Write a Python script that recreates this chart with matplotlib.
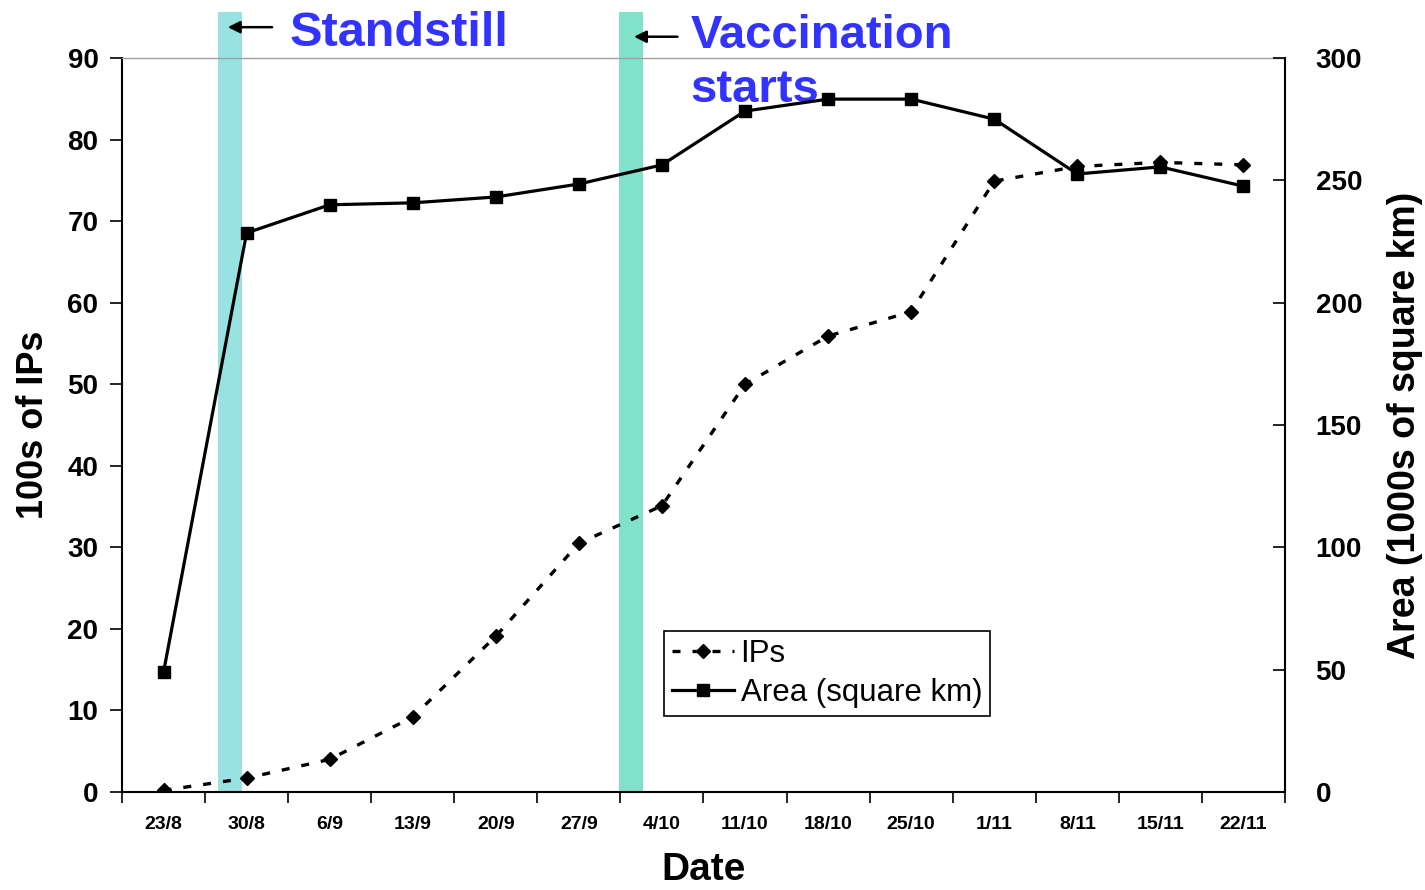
import matplotlib
matplotlib.use("Agg")
import matplotlib.pyplot as plt
import numpy as np

plt.rcParams['font.family'] = ['Liberation Sans', 'DejaVu Sans']

dates = ["23/8", "30/8", "6/9", "13/9", "20/9", "27/9", "4/10", "11/10",
         "18/10", "25/10", "1/11", "8/11", "15/11", "22/11"]
ips_hundreds = [0.2, 1.7, 4.0, 9.2, 19.1, 30.5, 35.1, 50.0, 55.9, 58.9, 74.9, 76.7, 77.2, 76.9]
area_thousands = [49.0, 228.5, 240.0, 240.8, 243.2, 248.5, 256.3, 278.3, 283.2, 283.2, 275.0, 252.6, 255.5, 247.6]

left_ticks = [0, 10, 20, 30, 40, 50, 60, 70, 80, 90]
right_ticks = [0, 50, 100, 150, 200, 250, 300]

event_labels = ["Standstill", "Vaccination\nstarts"]
event_pos = [0.80, 5.63]
event_colors = ["#98E2E2", "#80E2CB"]

fig = plt.figure(figsize=(14.25, 8.9), dpi=100)
ax = fig.add_axes([122/1425, 1 - 792/890, (1285-122)/1425, (792-58)/890])
ax2 = ax.twinx()

x = np.arange(len(dates))

# shaded event bars
bw = 0.29
for p, c in zip(event_pos, event_colors):
    ax.axvspan(p - bw/2, p + bw/2, ymin=0, ymax=1.063, color=c, lw=0, clip_on=False, zorder=0)

l1, = ax.plot(x, ips_hundreds, color='black', lw=2.4, linestyle=(0, (2.4, 3.6)),
              marker='D', markersize=7.5, markerfacecolor='black', markeredgecolor='black',
              label='IPs', zorder=3)
l2, = ax2.plot(x, area_thousands, color='black', lw=2.3, linestyle='-',
               marker='s', markersize=9, markerfacecolor='black', markeredgecolor='black',
               label='Area (square km)', zorder=3)

ax.set_xlim(-0.5, len(dates) - 0.5)
ax.set_ylim(0, 90)
ax2.set_ylim(0, 300)

ax.set_yticks(left_ticks)
ax.set_yticklabels([str(t) for t in left_ticks], fontsize=20, fontweight='bold')
ax2.set_yticks(right_ticks)
ax2.set_yticklabels([str(t) for t in right_ticks], fontsize=20, fontweight='bold')

ax.set_xticks(x)
ax.set_xticklabels(dates, fontsize=14, fontweight='bold')
ax.set_xticks(np.arange(-0.5, len(dates)), minor=True)
ax.tick_params(axis='x', which='major', length=0, pad=17)
ax.tick_params(axis='x', which='minor', length=8, width=1.2, direction='out')
ax.tick_params(axis='y', length=9, width=1.2, direction='out', pad=8)
ax2.tick_params(axis='y', length=9, width=1.2, direction='in', pad=22)

for sp in ['left', 'bottom']:
    ax.spines[sp].set_linewidth(1.5)
ax.spines['top'].set_color('#a0a0a0')
ax.spines['top'].set_linewidth(1.0)
ax2.spines['right'].set_linewidth(1.5)
ax2.spines['top'].set_visible(False)
ax2.spines['left'].set_visible(False)
ax2.spines['bottom'].set_visible(False)
ax.spines['right'].set_visible(False)

ax.set_xlabel("Date", fontsize=28, fontweight='bold', labelpad=14)
ax.set_ylabel("100s of IPs", fontsize=26, fontweight='bold', labelpad=12)
ax2.set_ylabel("Area (1000s of square km)", fontsize=27, fontweight='bold', labelpad=18)

# annotations
blue = "#3333FF"
ax.annotate("", xy=(event_pos[0] - 0.06, 1.042), xycoords=('data', 'axes fraction'),
            xytext=(1.34, 1.042), textcoords=('data', 'axes fraction'),
            arrowprops=dict(arrowstyle='-|>', color='black', lw=1.8, mutation_scale=18),
            annotation_clip=False)
ax.text(1.52, 1.033, event_labels[0], transform=ax.get_xaxis_transform(),
        fontsize=35, fontweight='bold', color=blue, va='center', ha='left', clip_on=False)
ax.annotate("", xy=(event_pos[1] + 0.0, 1.029), xycoords=('data', 'axes fraction'),
            xytext=(6.22, 1.029), textcoords=('data', 'axes fraction'),
            arrowprops=dict(arrowstyle='-|>', color='black', lw=1.8, mutation_scale=18),
            annotation_clip=False)
ax.text(6.34, 1.060, event_labels[1], transform=ax.get_xaxis_transform(),
        fontsize=34, fontweight='bold', color=blue, va='top', ha='left',
        linespacing=1.3, clip_on=False, zorder=5)

leg = ax2.legend([l1, l2], ['IPs', 'Area (square km)'], loc='lower left',
                 bbox_to_anchor=(0.466, 0.1035), fontsize=22.5, frameon=True, fancybox=False,
                 edgecolor='black', framealpha=1, handlelength=2.0, borderpad=0.25,
                 labelspacing=0.3, handletextpad=0.2, borderaxespad=0)
leg.get_frame().set_linewidth(1.2)

fig.savefig("out.png", dpi=100)
